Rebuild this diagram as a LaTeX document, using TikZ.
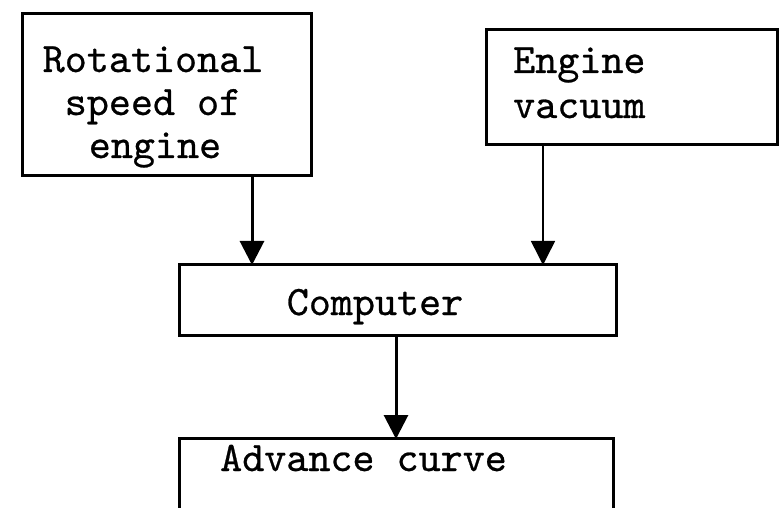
\documentclass[tikz,border=0pt]{standalone}
\usepackage{fontspec}
\usetikzlibrary{arrows.meta}
\newfontfamily\tfont[FakeBold=0.6]{lmmono10-regular.otf}
\begin{document}
\begin{tikzpicture}[x=1pt,y=-1pt,
  box/.style={draw, line width=3pt, inner sep=0pt, outer sep=0pt},
  lbl/.style={font=\tfont\fontsize{42}{42}\selectfont, inner sep=0pt},
  arr/.style={line width=3pt, -{Triangle[width=24pt,length=24pt]}, shorten >=-1pt},
  thinarr/.style={line width=1.5pt, -{Triangle[width=24pt,length=24pt]}, shorten >=-1pt}]
\useasboundingbox (0,0) rectangle (780,508);
\clip (0,0) rectangle (780,508);
\node[box, minimum width=289pt, minimum height=162pt] (b1) at (166.5,95) {};
\node[box, minimum width=291pt, minimum height=115pt] (b2) at (631.5,87.5) {};
\node[box, minimum width=437pt, minimum height=71pt] (comp) at (397.5,299.5) {};
\node[box, minimum width=434pt, minimum height=100pt] (adv) at (396,488) {};
\node[lbl, anchor=base] (t1a) at (153,72) {Rotational};
\node[lbl, anchor=base] (t1b) at (153,115) {speed of};
\node[lbl, anchor=base] (t1c) at (155,158) {engine};
\node[lbl, anchor=base west] (t2a) at (513,73) {Engine};
\node[lbl, anchor=base west] (t2b) at (513,118) {vacuum};
\node[lbl, anchor=base] (t3) at (375,315) {Computer};
\node[lbl, anchor=base west] (t4) at (220,471) {Advance curve};
\draw[arr] ([xshift=85.5pt]b1.south) -- ([xshift=85.5pt]b1.south |- comp.north);
\draw[thinarr] ([xshift=-88.5pt]b2.south) -- ([xshift=-88.5pt]b2.south |- comp.north);
\draw[arr] (comp.south -| adv.north) -- (adv.north);
\end{tikzpicture}
\end{document}
